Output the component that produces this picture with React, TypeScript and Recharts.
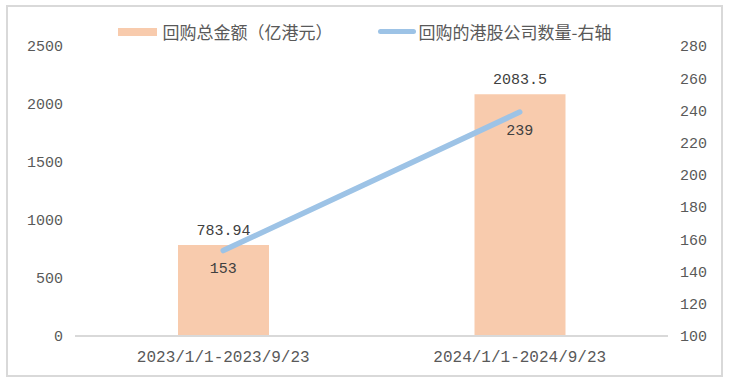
import { ComposedChart, Bar, Line, XAxis, YAxis, LabelList, ReferenceLine } from 'recharts';

const categories = ['2023/1/1-2023/9/23', '2024/1/1-2024/9/23'];
const amounts = [783.94, 2083.5];
const companies = [153, 239];
const leftTicks = [0, 500, 1000, 1500, 2000, 2500];
const rightTicks = [100, 120, 140, 160, 180, 200, 220, 240, 260, 280];

const data = categories.map((c, i) => ({ name: c, amount: amounts[i], count: companies[i] }));

const BAR = '#F8CBAD';
const LINE = '#9DC3E6';
const TXT = '#595959';
const MONO = '"Liberation Mono", monospace';
const tickStyle = { fontSize: 15, fill: TXT, fontFamily: MONO };

function LegendBox() {
    return (
        <div style={{
            position: 'absolute', left: 0, top: 19, width: 729, display: 'flex',
            justifyContent: 'center', alignItems: 'center', fontFamily: '"Noto Sans CJK SC", sans-serif',
            fontSize: 17, color: TXT,
        }}>
            <span style={{ display: 'inline-block', width: 39, height: 8, background: BAR, marginRight: 6 }} />
            <span style={{ marginRight: 45 }}>回购总金额（亿港元）</span>
            <span style={{ display: 'inline-block', width: 38, height: 5, borderRadius: 3, background: LINE, marginRight: 3 }} />
            <span>回购的港股公司数量-右轴</span>
        </div>
    );
}

export default function App() {
    return (
        <div style={{ position: 'absolute', left: 0, top: 0, width: 729, height: 383, background: '#fff' }}>
            <div style={{
                position: 'absolute', left: 6, top: 5, width: 717, height: 372,
                border: '2px solid #d9d9d9', boxSizing: 'border-box',
            }} />
            <div style={{ position: 'absolute', left: 0, top: 0 }}>
                <ComposedChart width={729} height={383} data={data}
                    margin={{ top: 46, right: 0, bottom: 0, left: 0 }}>
                    <XAxis dataKey="name" tick={{ ...tickStyle, fontSize: 16 }} axisLine={false}
                        tickLine={false} height={47} tickMargin={9} />
                    <YAxis yAxisId="l" domain={[0, 2500]} ticks={leftTicks} width={75} axisLine={false}
                        tickLine={false} tick={tickStyle} interval={0} tickMargin={6} />
                    <YAxis yAxisId="r" orientation="right" domain={[100, 280]} ticks={rightTicks} width={61}
                        axisLine={false} tickLine={false} tick={tickStyle} interval={0} tickMargin={6} />
                    <ReferenceLine yAxisId="l" y={0} stroke="#d9d9d9" strokeWidth={2} />
                    <Bar yAxisId="l" dataKey="amount" fill={BAR} barSize={91} isAnimationActive={false}>
                        <LabelList dataKey="amount" position="top" offset={10}
                            style={{ fontSize: 15, fill: '#404040', fontFamily: MONO }} />
                    </Bar>
                    <Line yAxisId="r" dataKey="count" stroke={LINE} strokeWidth={5.5} strokeLinecap="round"
                        dot={false} activeDot={false} isAnimationActive={false}>
                        <LabelList dataKey="count" position="bottom" offset={12}
                            style={{ fontSize: 15, fill: '#404040', fontFamily: MONO }} />
                    </Line>
                </ComposedChart>
            </div>
            <LegendBox />
        </div>
    );
}
